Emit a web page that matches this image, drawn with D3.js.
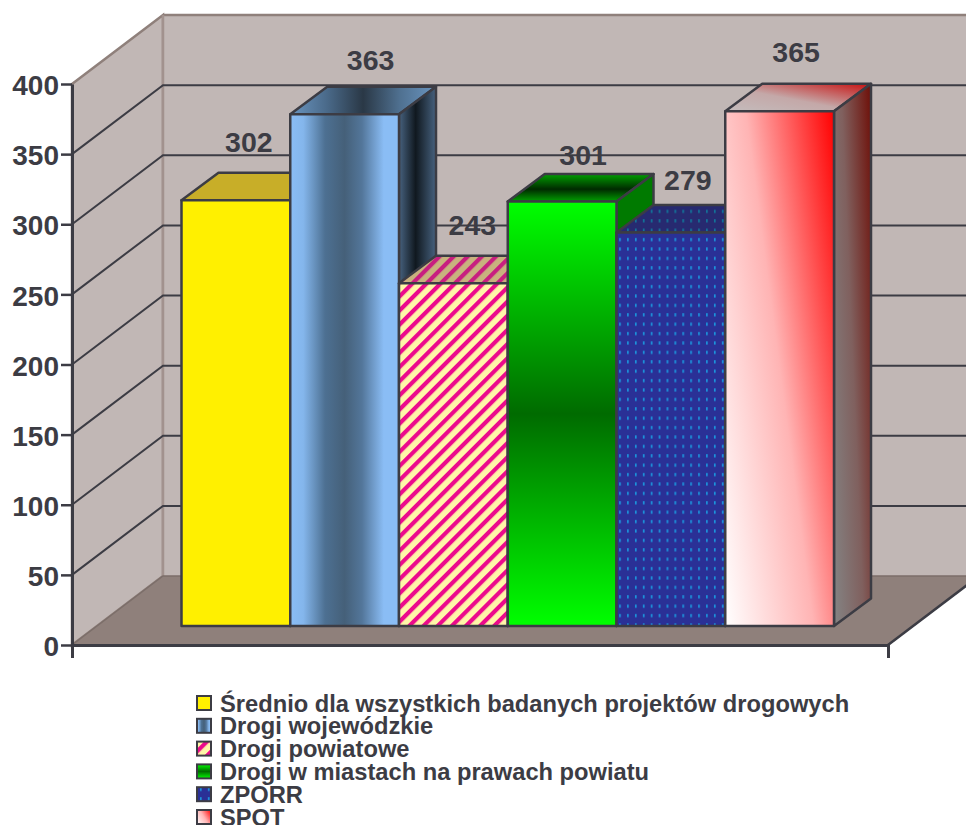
<!DOCTYPE html>
<html>
<head>
<meta charset="utf-8">
<script src="https://cdn.jsdelivr.net/npm/d3@7"></script>
<style>
  html, body { margin: 0; padding: 0; background: #fff; overflow: hidden; }
  svg { display: block; }
  text { font-family: "Liberation Sans", Arial, sans-serif; font-weight: bold; fill: #3c3c44; }
</style>
</head>
<body>
<svg id="chart" width="966" height="825"></svg>
<script>
// Chart data
const categories = [
  "Średnio dla wszystkich badanych projektów drogowych",
  "Drogi wojewódzkie",
  "Drogi powiatowe",
  "Drogi w miastach na prawach powiatu",
  "ZPORR",
  "SPOT"
];
const values = [302, 363, 243, 301, 279, 365];
const yTicks = [0, 50, 100, 150, 200, 250, 300, 350, 400];
const labelOffsets = [[13, -48], [26, -44], [19, -48], [21, -37], [17, -43], [16.5, -49]];

const INK = "#3c3c44";
const WALL = "#c1b7b5";
const FLOOR = "#8f807b";

const svg = d3.select("#chart");
const defs = svg.append("defs");

// Scales: the axis plane, and the plane holding the front faces of the bars
const yAxis = d3.scaleLinear().domain([0, 400]).range([645, 84]);
const yFront = d3.scaleLinear().domain([0, 400]).range([626, 62]);
const xBand = d3.scaleBand().domain(categories).range([181.5, 834]);

const wallDepth = { dx: 91, dy: -69 };
const barDepth = { dx: 37, dy: -27.5 };
const xLeft = 72, xRight = 888;

const outline = d3.line().curve(d3.curveLinearClosed);

function gradient(id, dir, stops) {
  const g = defs.append("linearGradient").attr("id", id)
    .attr("x1", dir[0]).attr("y1", dir[1]).attr("x2", dir[2]).attr("y2", dir[3]);
  stops.forEach(s => g.append("stop").attr("offset", s[0]).attr("stop-color", s[1]));
}
const H = [0, 0, 1, 0], V = [0, 0, 0, 1], RISING = [0, 1, 1.17, .27];

gradient("blueFront", H, [[0, "#8abdf5"], [.12, "#84b6ec"], [.32, "#4d7092"], [.5, "#456079"], [.66, "#53769a"], [.86, "#8abdf5"], [1, "#8abdf5"]]);
gradient("blueTop", H, [[0, "#6a95c0"], [.25, "#4a6a8a"], [.5, "#2a3846"], [.75, "#4f7090"], [1, "#6a95c0"]]);
gradient("blueSide", H, [[0, "#47627f"], [.45, "#10181f"], [1, "#47627f"]]);
gradient("greenFront", V, [[0, "#00ff00"], [.5, "#006b00"], [1, "#00ff00"]]);
gradient("greenTop", V, [[0, "#00a000"], [.55, "#002a00"], [1, "#00a000"]]);
gradient("redFront", RISING, [[0, "#ffffff"], [.5, "#ffb4b4"], [1, "#ff0000"]]);
gradient("redTop", [0, 1, 1, 0], [[0, "#c4bdbd"], [.45, "#c4a8a8"], [1, "#c81010"]]);
gradient("redSide", RISING, [[0, "#848484"], [.5, "#80605e"], [1, "#6e0f08"]]);

function stripes(id, bg, fg) {
  const p = defs.append("pattern").attr("id", id).attr("patternUnits", "userSpaceOnUse")
    .attr("width", 10).attr("height", 10).attr("patternTransform", "rotate(45)");
  p.append("rect").attr("width", 10).attr("height", 10).attr("fill", bg);
  p.append("rect").attr("width", 4.2).attr("height", 10).attr("fill", fg);
}
stripes("pinkFront", "#fff6a8", "#ec0a8c");
stripes("pinkTop", "#c8b27e", "#c81e80");

function dots(id, bg, fg) {
  const p = defs.append("pattern").attr("id", id).attr("patternUnits", "userSpaceOnUse")
    .attr("width", 7.9).attr("height", 9.4);
  p.append("rect").attr("width", 7.9).attr("height", 9.4).attr("fill", bg);
  p.append("rect").attr("x", 3).attr("y", 3).attr("width", 1.6).attr("height", 3.2).attr("fill", fg);
}
dots("navyFront", "#2a3096", "#1a9ae0");
dots("navyTop", "#272a70", "#10789c");

const faces = [
  { front: "#fff000", top: "#c8ae28", side: "#b8a50a" },
  { front: "url(#blueFront)", top: "url(#blueTop)", side: "url(#blueSide)" },
  { front: "url(#pinkFront)", top: "url(#pinkTop)", side: "#b0507a" },
  { front: "url(#greenFront)", top: "url(#greenTop)", side: "#007a00" },
  { front: "url(#navyFront)", top: "url(#navyTop)", side: "#272a70" },
  { front: "url(#redFront)", top: "url(#redTop)", side: "url(#redSide)" }
];
const swatches = ["#fff000", "url(#blueFront)", "url(#pinkFront)", "url(#greenFront)", "url(#navyFront)", "url(#redFront)"];

// Walls and floor
const page = svg.append("g");
page.append("path").attr("fill", WALL).attr("stroke", FLOOR).attr("stroke-width", 2.5)
  .attr("d", outline([
    [xLeft, yAxis(400)], [xLeft + wallDepth.dx, yAxis(400) + wallDepth.dy],
    [xLeft + wallDepth.dx, yAxis(0) + wallDepth.dy], [xLeft, yAxis(0)]
  ]));
page.append("rect").attr("x", xLeft + wallDepth.dx).attr("y", yAxis(400) + wallDepth.dy)
  .attr("width", 966 - xLeft - wallDepth.dx).attr("height", yAxis(0) - yAxis(400))
  .attr("fill", WALL);
page.append("line").attr("x1", xLeft + wallDepth.dx).attr("x2", 966)
  .attr("y1", yAxis(400) + wallDepth.dy).attr("y2", yAxis(400) + wallDepth.dy)
  .attr("stroke", FLOOR).attr("stroke-width", 2.5);
page.append("line").attr("x1", xLeft + wallDepth.dx).attr("x2", xLeft + wallDepth.dx)
  .attr("y1", yAxis(400) + wallDepth.dy).attr("y2", yAxis(0) + wallDepth.dy)
  .attr("stroke", "#a2928e").attr("stroke-width", 2.5);

// Gridlines run across the side wall and then the back wall
const grid = yTicks.filter(t => t > 0 && t < 400);
page.selectAll("path.grid").data(grid).join("path")
  .attr("class", "grid").attr("fill", "none").attr("stroke", INK).attr("stroke-width", 2)
  .attr("d", t => {
    const y = yAxis(t);
    const backY = y + wallDepth.dy;
    return `M${xLeft},${y}L${xLeft + wallDepth.dx},${backY}L966,${backY}`;
  });

page.append("path").attr("fill", FLOOR).attr("stroke", "#7c6e6a").attr("stroke-width", 1.5)
  .attr("d", outline([
    [xLeft, yAxis(0)], [xRight, yAxis(0)],
    [xRight + wallDepth.dx, yAxis(0) + wallDepth.dy], [xLeft + wallDepth.dx, yAxis(0) + wallDepth.dy]
  ]));

// Axes
const axisG = svg.append("g").attr("transform", `translate(${xLeft},0)`)
  .call(d3.axisLeft(yAxis).tickValues(yTicks).tickSize(11).tickPadding(2).tickSizeOuter(0));
axisG.select(".domain").attr("stroke", INK).attr("stroke-width", 3);
axisG.selectAll(".tick line").attr("stroke", INK).attr("stroke-width", 2.5);
axisG.selectAll(".tick text").style("font-size", "28px").attr("fill", INK).attr("dy", "0.38em")
  .style("font-family", '"Liberation Sans", Arial, sans-serif').style("font-weight", "bold");

const xScale = d3.scaleLinear().domain([0, 1]).range([xLeft, xRight]);
const xAxisG = svg.append("g").attr("transform", `translate(0,${yAxis(0)})`)
  .call(d3.axisBottom(xScale).tickValues([0, 1]).tickSize(13).tickFormat(""));
xAxisG.select(".domain").attr("stroke", INK).attr("stroke-width", 3);
xAxisG.selectAll(".tick line").attr("stroke", INK).attr("stroke-width", 2.5);
svg.append("line").attr("x1", xRight).attr("y1", yAxis(0))
  .attr("x2", xRight + wallDepth.dx).attr("y2", yAxis(0) + wallDepth.dy)
  .attr("stroke", INK).attr("stroke-width", 2.5);

// Bars, painted left to right so each one overlaps its neighbour
const bars = svg.append("g").selectAll("g").data(categories).join("g")
  .attr("stroke", INK).attr("stroke-width", 2.5).attr("stroke-linejoin", "round");

bars.each(function (c, i) {
  const g = d3.select(this);
  const x0 = xBand(c), x1 = x0 + xBand.bandwidth();
  const yt = yFront(values[i]), yb = yFront(0);
  const { dx, dy } = barDepth;
  g.append("path").attr("fill", faces[i].top).attr("d", outline([
    [x0, yt], [x1, yt], [x1 + dx, yt + dy], [x0 + dx, yt + dy]
  ]));
  g.append("path").attr("fill", faces[i].side).attr("d", outline([
    [x1, yt], [x1 + dx, yt + dy], [x1 + dx, yb + dy], [x1, yb]
  ]));
  g.append("path").attr("fill", faces[i].front).attr("d", outline([
    [x0, yt], [x1, yt], [x1, yb], [x0, yb]
  ]));
});

// Value labels
svg.append("g").selectAll("text").data(values).join("text")
  .attr("text-anchor", "middle").style("font-size", "28.5px")
  .attr("x", (v, i) => xBand(categories[i]) + xBand.bandwidth() / 2 + labelOffsets[i][0])
  .attr("y", (v, i) => yFront(v) + labelOffsets[i][1])
  .text(v => v);

// Legend
const legendY = d3.scalePoint().domain(categories).range([703, 817]);
const legend = svg.append("g").selectAll("g").data(categories).join("g")
  .attr("transform", c => `translate(197,${legendY(c)})`);
legend.append("rect").attr("x", 0).attr("y", -7).attr("width", 14).attr("height", 14)
  .attr("fill", (c, i) => swatches[i]).attr("stroke", INK).attr("stroke-width", 2);
legend.append("text").attr("x", 23).attr("dy", "0.36em").style("font-size", "23.7px")
  .text(c => c);
</script>
</body>
</html>
